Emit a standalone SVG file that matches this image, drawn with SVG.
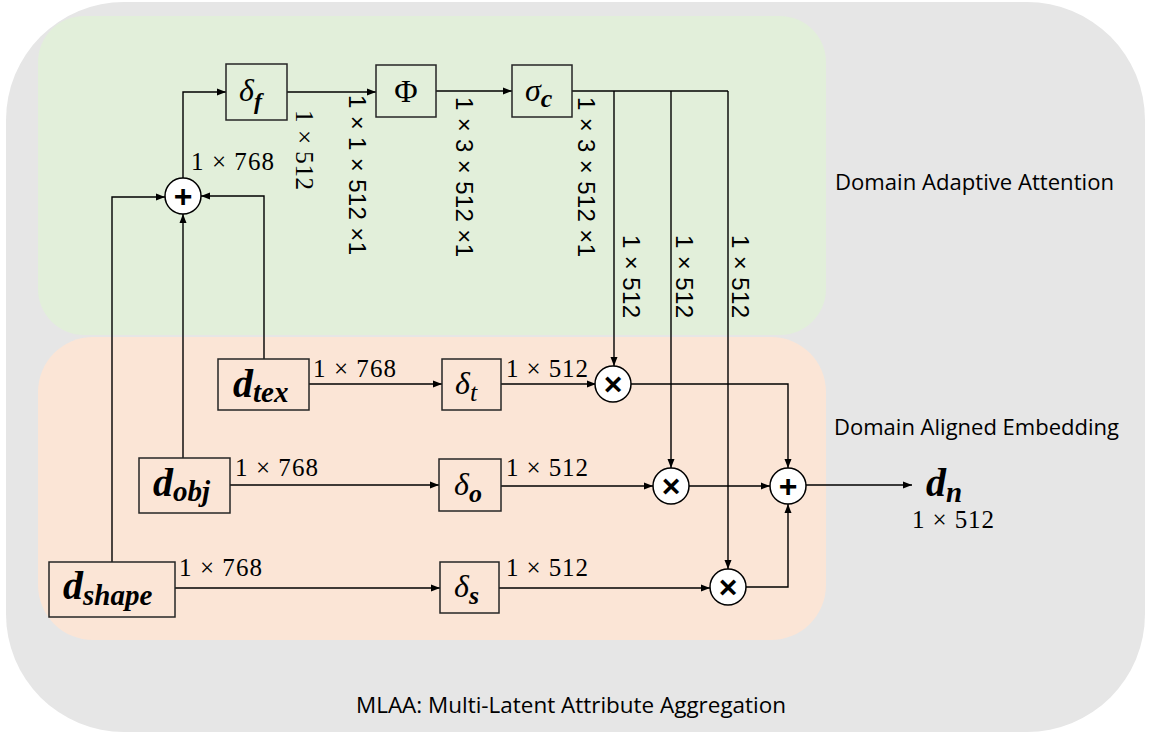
<svg xmlns="http://www.w3.org/2000/svg" width="1150" height="734" viewBox="0 0 1150 734">
<defs>
<marker id="ah" markerWidth="9" markerHeight="8" refX="9" refY="4" orient="auto" markerUnits="userSpaceOnUse"><path d="M0,0.5 L9,4 L0,7.5 z" fill="#000"/></marker>
<style>
.box{fill:none;stroke:#262626;stroke-width:1.5}
.op{fill:#fff;stroke:#000;stroke-width:1.5}
.opt{font-family:"Liberation Sans",Arial,sans-serif;font-weight:bold;font-size:32px;text-anchor:middle;fill:#000}
.ln{fill:none;stroke:#000;stroke-width:1.4}
.arr{marker-end:url(#ah)}
.m{font-family:"Liberation Serif","Times New Roman",serif;fill:#000}
.dim{font-family:"Liberation Serif","Times New Roman",serif;font-size:25px;fill:#000}
.vd{font-family:"Liberation Sans",Arial,sans-serif;font-size:24px;fill:#000}
.lab{font-family:"Open Sans","Noto Sans",sans-serif;font-size:21px;fill:#000}
.bi{font-weight:bold;font-style:italic}
.it{font-style:italic}
</style>
</defs>
<g id="backgrounds">
<rect x="6" y="2" width="1139" height="730" rx="118" ry="118" fill="#e6e6e6"/>
<rect x="38" y="16" width="788" height="319" rx="46" ry="46" fill="#e2efda"/>
<rect x="38" y="337" width="788" height="303" rx="55" ry="55" fill="#fbe5d6"/>
</g>
<g id="connectors">
<path class="ln arr" d="M112,562 V197 H165"/>
<path class="ln arr" d="M183,458 V214"/>
<path class="ln arr" d="M264,359 V196 H201"/>
<path class="ln arr" d="M183,178 V92 H226"/>
<path class="ln arr" d="M287,92 H376"/>
<path class="ln arr" d="M436,91 H512"/>
<path class="ln" d="M572,91 H728"/>
<path class="ln arr" d="M614,91 V366"/>
<path class="ln arr" d="M671,91 V468"/>
<path class="ln arr" d="M728,91 V569"/>
<path class="ln arr" d="M309,384 H442"/>
<path class="ln arr" d="M501,384 H596"/>
<path class="ln arr" d="M230,485 H439"/>
<path class="ln arr" d="M501,486 H653"/>
<path class="ln arr" d="M175,588 H440"/>
<path class="ln arr" d="M499,588 H710"/>
<path class="ln arr" d="M631,384 H788 V468"/>
<path class="ln arr" d="M689,486 H770"/>
<path class="ln arr" d="M746,587 H788 V504"/>
<path class="ln arr" d="M806,485 H912"/>
</g>
<g id="node-plus1">
<circle class="op" cx="183" cy="196" r="18"/>
<text class="opt" x="183" y="207">+</text>
</g>
<g id="node-delta-f">
<rect class="box" x="226" y="64" width="61" height="56"/>
<text class="m" x="239" y="101" font-size="32"><tspan class="it">δ</tspan><tspan class="bi" font-size="24" dy="8">f</tspan></text>
</g>
<g id="node-phi">
<rect class="box" x="376" y="65" width="60" height="52"/>
<text class="m" x="406" y="102" font-size="32" text-anchor="middle">Φ</text>
</g>
<g id="node-sigma-c">
<rect class="box" x="512" y="65" width="60" height="52"/>
<text class="m" x="525" y="101" font-size="32"><tspan class="it">σ</tspan><tspan class="bi" font-size="26" dy="6">c</tspan></text>
</g>
<g id="node-d-tex">
<rect class="box" x="218" y="359" width="91" height="51"/>
<text class="m" x="233" y="397" font-size="40"><tspan class="bi">d</tspan><tspan class="bi" font-size="29" dy="5">tex</tspan></text>
</g>
<g id="node-delta-t">
<rect class="box" x="442" y="359" width="59" height="51"/>
<text class="m" x="455" y="394" font-size="32"><tspan class="it">δ</tspan><tspan class="it" font-size="26" dy="7">t</tspan></text>
</g>
<g id="node-d-obj">
<rect class="box" x="139" y="458" width="91" height="55"/>
<text class="m" x="153" y="496" font-size="40"><tspan class="bi">d</tspan><tspan class="bi" font-size="29" dy="5">obj</tspan></text>
</g>
<g id="node-delta-o">
<rect class="box" x="439" y="459" width="62" height="52"/>
<text class="m" x="454" y="495" font-size="32"><tspan class="it">δ</tspan><tspan class="bi" font-size="26" dy="7">o</tspan></text>
</g>
<g id="node-d-shape">
<rect class="box" x="49" y="562" width="126" height="55"/>
<text class="m" x="63" y="599" font-size="40"><tspan class="bi">d</tspan><tspan class="bi" font-size="29" dy="6">shape</tspan></text>
</g>
<g id="node-delta-s">
<rect class="box" x="440" y="562" width="59" height="51"/>
<text class="m" x="454" y="597" font-size="32"><tspan class="it">δ</tspan><tspan class="bi" font-size="26" dy="7">s</tspan></text>
</g>
<g id="node-mul1">
<circle class="op" cx="613" cy="384" r="18"/>
<text class="opt" x="613" y="395">×</text>
</g>
<g id="node-mul2">
<circle class="op" cx="671" cy="486" r="18"/>
<text class="opt" x="671" y="497">×</text>
</g>
<g id="node-mul3">
<circle class="op" cx="728" cy="587" r="18"/>
<text class="opt" x="728" y="598">×</text>
</g>
<g id="node-plus2">
<circle class="op" cx="788" cy="486" r="18"/>
<text class="opt" x="788" y="497">+</text>
</g>
<g id="node-d-n">
<text class="m" x="926" y="496" font-size="40"><tspan class="bi">d</tspan><tspan class="bi" font-size="29" dy="6">n</tspan></text>
<text class="dim" x="912" y="528" textLength="82" lengthAdjust="spacing">1 × 512</text>
</g>
<g id="dimension-labels">
<text class="dim" x="191" y="170" textLength="83" lengthAdjust="spacing">1 × 768</text>
<text class="dim" x="313" y="377" textLength="83" lengthAdjust="spacing">1 × 768</text>
<text class="dim" x="235" y="476" textLength="83" lengthAdjust="spacing">1 × 768</text>
<text class="dim" x="179" y="576" textLength="83" lengthAdjust="spacing">1 × 768</text>
<text class="dim" x="506" y="377" textLength="82" lengthAdjust="spacing">1 × 512</text>
<text class="dim" x="506" y="476" textLength="82" lengthAdjust="spacing">1 × 512</text>
<text class="dim" x="506" y="576" textLength="82" lengthAdjust="spacing">1 × 512</text>
<text class="dim" transform="translate(296,110) rotate(90)" textLength="80" lengthAdjust="spacing">1 × 512</text>
<text class="vd" transform="translate(349,95) rotate(90)" textLength="160" lengthAdjust="spacing">1 × 1 × 512 ×1</text>
<text class="vd" transform="translate(456,97) rotate(90)" textLength="160" lengthAdjust="spacing">1 × 3 × 512 ×1</text>
<text class="vd" transform="translate(578,97) rotate(90)" textLength="160" lengthAdjust="spacing">1 × 3 × 512 ×1</text>
<text class="vd" transform="translate(623,235) rotate(90)" textLength="83" lengthAdjust="spacing">1 × 512</text>
<text class="vd" transform="translate(676,235) rotate(90)" textLength="83" lengthAdjust="spacing">1 × 512</text>
<text class="vd" transform="translate(732,235) rotate(90)" textLength="83" lengthAdjust="spacing">1 × 512</text>
</g>
<g id="region-labels">
<text class="lab" x="835" y="190" textLength="279" lengthAdjust="spacingAndGlyphs">Domain Adaptive Attention</text>
<text class="lab" x="834" y="435" textLength="285" lengthAdjust="spacingAndGlyphs">Domain Aligned Embedding</text>
<text class="lab" x="356" y="713" textLength="430" lengthAdjust="spacingAndGlyphs">MLAA: Multi-Latent Attribute Aggregation</text>
</g>
</svg>
